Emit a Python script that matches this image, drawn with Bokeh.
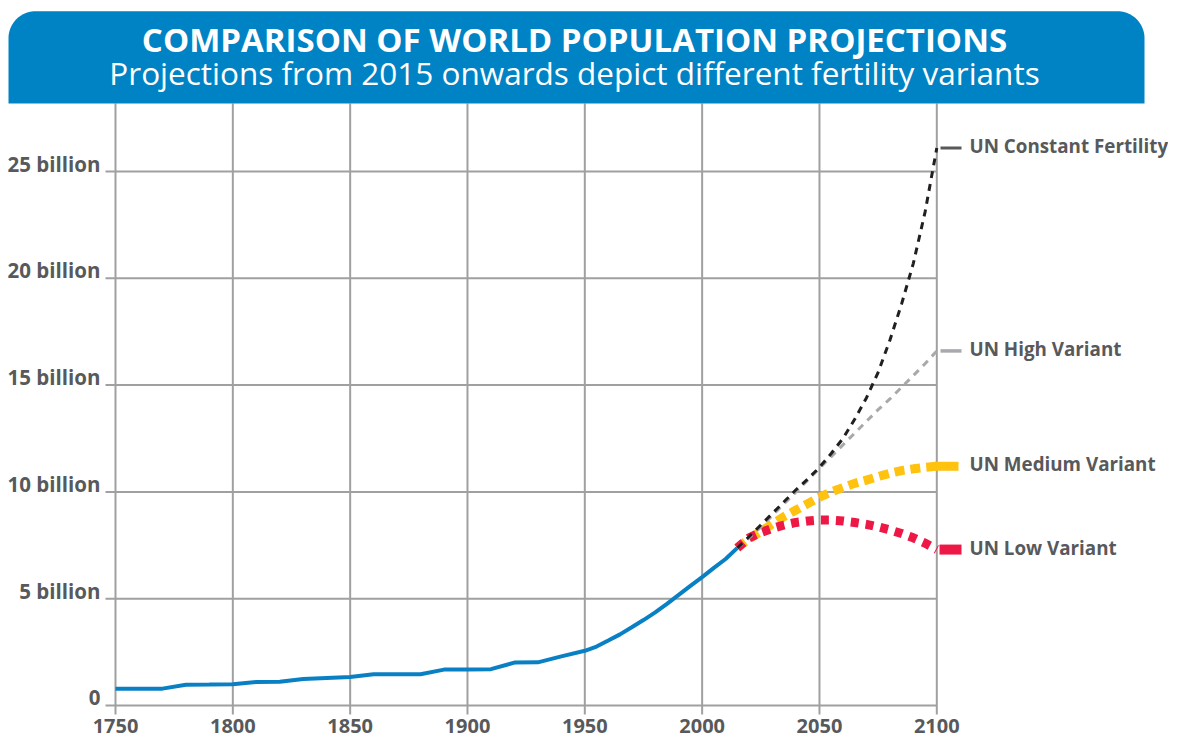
import numpy as np
from bokeh.plotting import figure
from bokeh.models import Range1d
from bokeh.core.properties import value
from bokeh.embed import file_html
from bokeh.resources import INLINE

# ---------------- data ----------------
title_text = "COMPARISON OF WORLD POPULATION PROJECTIONS"
subtitle_text = "Projections from 2015 onwards depict different fertility variants"

hist_years = [1750, 1760, 1770, 1780, 1790, 1800, 1810, 1820, 1830, 1840, 1850,
              1860, 1870, 1880, 1890, 1900, 1910, 1920, 1930, 1940, 1950, 1955,
              1960, 1965, 1970, 1975, 1980, 1985, 1990, 1995, 2000, 2005, 2010, 2015]
hist_pop = [0.79, 0.79, 0.79, 0.97, 0.98, 1.00, 1.10, 1.11, 1.24, 1.29, 1.33,
            1.46, 1.46, 1.46, 1.68, 1.69, 1.70, 2.01, 2.02, 2.30, 2.56, 2.76,
            3.04, 3.33, 3.66, 4.00, 4.36, 4.76, 5.18, 5.60, 6.01, 6.44, 6.86, 7.38]

proj_years = [2015, 2020, 2025, 2030, 2035, 2040, 2045, 2050, 2055, 2060,
              2065, 2070, 2075, 2080, 2085, 2090, 2095, 2100]
constant = [7.38, 7.90, 8.45, 9.00, 9.55, 10.10, 10.60, 11.15, 11.80, 12.50,
            13.40, 14.40, 15.60, 17.10, 18.80, 20.70, 23.10, 26.10]
high = [7.38, 7.85, 8.35, 8.90, 9.45, 10.00, 10.55, 11.10, 11.65, 12.20,
        12.75, 13.30, 13.85, 14.35, 14.90, 15.45, 16.00, 16.60]
medium = [7.38, 7.80, 8.15, 8.50, 8.85, 9.15, 9.45, 9.75, 10.00, 10.20,
          10.40, 10.55, 10.72, 10.87, 11.00, 11.08, 11.15, 11.20]
low = [7.38, 7.85, 8.10, 8.30, 8.45, 8.57, 8.64, 8.68, 8.68, 8.64,
       8.57, 8.48, 8.36, 8.22, 8.05, 7.85, 7.60, 7.30]

series_names = ["UN Constant Fertility", "UN High Variant",
                "UN Medium Variant", "UN Low Variant"]

x_ticks = [1750, 1800, 1850, 1900, 1950, 2000, 2050, 2100]
x_tick_labels = [str(v) for v in x_ticks]
y_ticks = [0, 5, 10, 15, 20, 25]
y_tick_labels = ["0", "5 billion", "10 billion", "15 billion", "20 billion", "25 billion"]

# ---------------- styling ----------------
FONT = "Open Sans"
BLUE_HEAD = "#0083c5"
BLUE_LINE = "#0a80c4"
GRID = "#a0a0a0"
TEXT = "#58595b"

W, H = 1168, 738

# linear scales (pixels per unit) and anchor pixels
px_per_year = (936.3 - 115.0) / 350.0
px_per_b = (705.0 - 171.0) / 25.0
X_ZERO_PX, Y_ZERO_PX = 115.0, 705.0   # canvas px of 1750 / 0 billion

x_start = x_ticks[0] - X_ZERO_PX / px_per_year
x_end = x_start + W / px_per_year
y_end = Y_ZERO_PX / px_per_b
y_start = y_end - H / px_per_b

p = figure(width=W, height=H, x_range=Range1d(x_start, x_end),
           y_range=Range1d(y_start, y_end), output_backend="svg",
           toolbar_location=None, min_border=0, x_axis_type=None, y_axis_type=None,
           outline_line_color=None, background_fill_color="white")
p.grid.visible = False
# canvas-pixel helper ranges for decoration / layout
p.extra_x_ranges = {"px": Range1d(0, W)}
p.extra_y_ranges = {"px": Range1d(H, 0)}

grid_bottom = -(714 - Y_ZERO_PX) / px_per_b
grid_top = (Y_ZERO_PX - 103) / px_per_b
grid_left = x_ticks[0] - 10 / px_per_year

# grid lines
p.segment(x0=x_ticks, y0=[grid_bottom] * len(x_ticks), x1=x_ticks, y1=[grid_top] * len(x_ticks),
          line_color=GRID, line_width=2)
p.segment(x0=[grid_left] * len(y_ticks), y0=y_ticks, x1=[x_ticks[-1]] * len(y_ticks), y1=y_ticks,
          line_color=GRID, line_width=2)

# tick labels
p.text(x=x_ticks, y=[725] * len(x_ticks), y_range_name="px", text=x_tick_labels,
       text_font=value(FONT), text_font_style="bold", text_font_size="20px",
       text_color=TEXT, text_align="center", text_baseline="middle")
p.text(x=[100] * len(y_ticks), y=y_ticks, x_range_name="px", text=y_tick_labels,
       text_font=value(FONT), text_font_style="bold", text_font_size="20.5px",
       text_color=TEXT, text_align="right", text_baseline="middle", y_offset=-8)

# historical
p.line(hist_years, hist_pop, line_color=BLUE_LINE, line_width=4)

# projections
styles = [
    (constant, "#231f20", 3, "7 6"),
    (high, "#a7a9ac", 3, "7 6"),
    (medium, "#ffc20e", 9, "10 6"),
    (low, "#ed1846", 9, "8 7"),
]
for idx in [2, 3, 1, 0]:
    vals, col, lw, dash = styles[idx]
    p.line(proj_years, vals, line_color=col, line_width=lw, line_dash=dash, line_cap="butt")

# label stubs and labels
stub_px = [(940, 961), (940, 961), (934, 958), (939, 961)]
stub_colors = ["#58595b", "#a7a9ac", "#ffc20e", "#ed1846"]
stub_widths = [3, 3.5, 9, 10]
for (vals, _, _, _), (a, b), c, w in zip(styles, stub_px, stub_colors, stub_widths):
    p.segment(x0=[x_ticks[-1] + (a - 936.3) / px_per_year], y0=[vals[-1]],
              x1=[x_ticks[-1] + (b - 936.3) / px_per_year], y1=[vals[-1]],
              line_color=c, line_width=w, line_cap="butt")

p.text(x=[969] * 4, x_range_name="px", y=[s[0][-1] for s in styles], text=series_names,
       text_font=value(FONT), text_font_style="bold", text_font_size="18.8px",
       text_color=TEXT, text_align="left", text_baseline="middle", y_offset=-2)

# header banner (canvas pixel coordinates)
bx0, bx1, by0, by1, r = 8.0, 1144.0, 10.7, 103.0, 27.0
t = np.linspace(0, np.pi / 2, 24)
lx = (bx0 + r) - r * np.cos(t)
ly = (by0 + r) - r * np.sin(t)
t2 = np.linspace(np.pi / 2, 0, 24)
rx = (bx1 - r) + r * np.cos(t2)
ry = (by0 + r) - r * np.sin(t2)
hx = [bx0] + list(lx) + list(rx) + [bx1]
hy = [by1] + list(ly) + list(ry) + [by1]
p.patch(hx, hy, x_range_name="px", y_range_name="px", fill_color=BLUE_HEAD, line_color=None)
p.text(x=[574], y=[39], x_range_name="px", y_range_name="px", text=[title_text],
       text_font=value(FONT), text_font_style="bold", text_font_size="33px",
       text_color="white", text_align="center", text_baseline="middle")
p.text(x=[574], y=[71.5], x_range_name="px", y_range_name="px", text=[subtitle_text],
       text_font=value(FONT), text_font_size="31.5px", text_color="white",
       text_align="center", text_baseline="middle")

open("out.html", "w").write(file_html(p, INLINE))
